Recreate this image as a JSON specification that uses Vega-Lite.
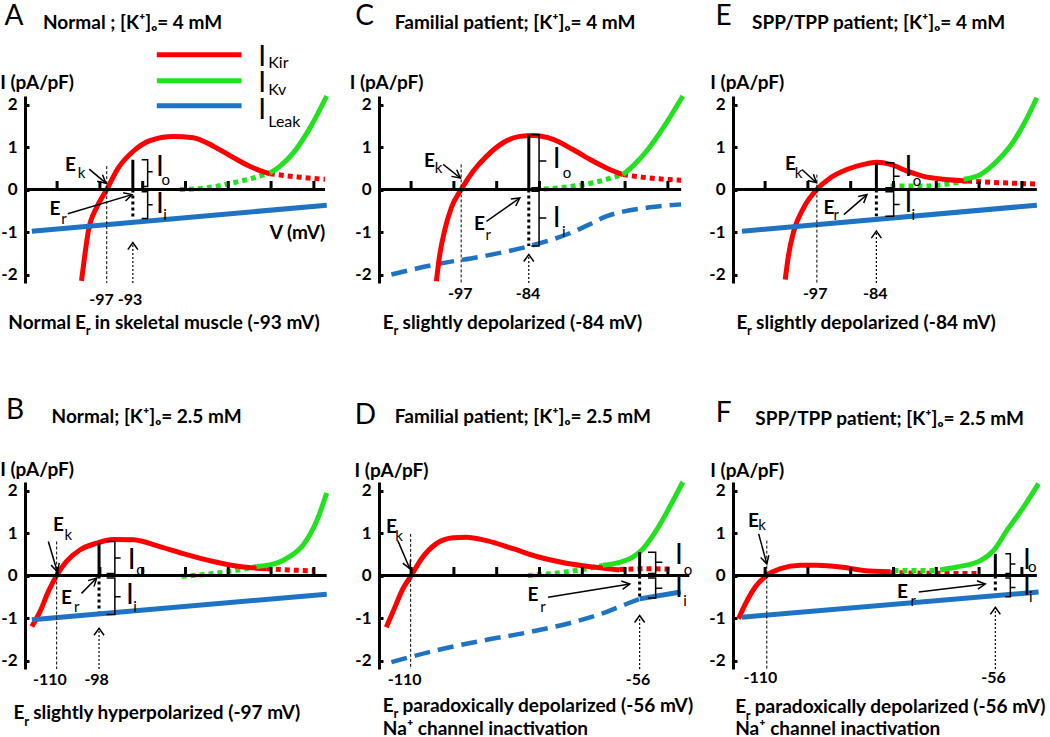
{
"$schema":"https://vega.github.io/schema/vega-lite/v6.json",
"autosize":{"type":"pad"},
"padding":{"left":0,"top":3,"right":0,"bottom":0},
"background":"white",
"data":{"values":[
{"p":"A","k":"sol","s":"kir","x":-104.3,"y":-2.15},{"p":"A","k":"sol","s":"kir","x":-103.5,"y":-1.53},{"p":"A","k":"sol","s":"kir","x":-102.7,"y":-0.98},{"p":"A","k":"sol","s":"kir","x":-100.8,"y":-0.43},{"p":"A","k":"sol","s":"kir","x":-98.4,"y":0},{"p":"A","k":"sol","s":"kir","x":-95.7,"y":0.51},{"p":"A","k":"sol","s":"kir","x":-92.2,"y":0.9},{"p":"A","k":"sol","s":"kir","x":-88.3,"y":1.15},{"p":"A","k":"sol","s":"kir","x":-82.9,"y":1.25},{"p":"A","k":"sol","s":"kir","x":-78.2,"y":1.22},{"p":"A","k":"sol","s":"kir","x":-73.5,"y":1.02},{"p":"A","k":"sol","s":"kir","x":-68.8,"y":0.75},{"p":"A","k":"sol","s":"kir","x":-64.2,"y":0.51},{"p":"A","k":"sol","s":"kir","x":-60.3,"y":0.37},
{"p":"A","k":"dot","s":"kir","x":-60.3,"y":0.37},{"p":"A","k":"dot","s":"kir","x":-53.3,"y":0.29},{"p":"A","k":"dot","s":"kir","x":-47.4,"y":0.24},
{"p":"A","k":"dot","s":"kv","x":-81.3,"y":0},{"p":"A","k":"dot","s":"kv","x":-75.1,"y":0.04},{"p":"A","k":"dot","s":"kv","x":-68.8,"y":0.16},{"p":"A","k":"dot","s":"kv","x":-64.2,"y":0.27},{"p":"A","k":"dot","s":"kv","x":-60.3,"y":0.39},
{"p":"A","k":"sol","s":"kv","x":-60.3,"y":0.39},{"p":"A","k":"sol","s":"kv","x":-57.9,"y":0.55},{"p":"A","k":"sol","s":"kv","x":-54.8,"y":0.86},{"p":"A","k":"sol","s":"kv","x":-50.9,"y":1.45},{"p":"A","k":"sol","s":"kv","x":-47.0,"y":2.2},
{"p":"A","k":"sol","s":"leak","x":-115.9,"y":-0.98},{"p":"A","k":"sol","s":"leak","x":-47.0,"y":-0.37},

{"p":"C","k":"sol","s":"kir","x":-104.1,"y":-2.16},{"p":"C","k":"sol","s":"kir","x":-103.3,"y":-1.53},{"p":"C","k":"sol","s":"kir","x":-102.2,"y":-0.98},{"p":"C","k":"sol","s":"kir","x":-100.6,"y":-0.43},{"p":"C","k":"sol","s":"kir","x":-98.3,"y":0},{"p":"C","k":"sol","s":"kir","x":-95.5,"y":0.43},{"p":"C","k":"sol","s":"kir","x":-92.4,"y":0.78},{"p":"C","k":"sol","s":"kir","x":-88.5,"y":1.1},{"p":"C","k":"sol","s":"kir","x":-84.6,"y":1.25},{"p":"C","k":"sol","s":"kir","x":-81.5,"y":1.27},{"p":"C","k":"sol","s":"kir","x":-76.8,"y":1.18},{"p":"C","k":"sol","s":"kir","x":-72.2,"y":0.94},{"p":"C","k":"sol","s":"kir","x":-67.5,"y":0.67},{"p":"C","k":"sol","s":"kir","x":-63.6,"y":0.47},{"p":"C","k":"sol","s":"kir","x":-60.5,"y":0.35},
{"p":"C","k":"dot","s":"kir","x":-60.5,"y":0.35},{"p":"C","k":"dot","s":"kir","x":-54.3,"y":0.27},{"p":"C","k":"dot","s":"kir","x":-46.9,"y":0.22},
{"p":"C","k":"dot","s":"kv","x":-81.1,"y":0},{"p":"C","k":"dot","s":"kv","x":-75.3,"y":0.04},{"p":"C","k":"dot","s":"kv","x":-67.5,"y":0.16},{"p":"C","k":"dot","s":"kv","x":-60.5,"y":0.35},
{"p":"C","k":"sol","s":"kv","x":-60.5,"y":0.35},{"p":"C","k":"sol","s":"kv","x":-58.2,"y":0.55},{"p":"C","k":"sol","s":"kv","x":-55.0,"y":0.9},{"p":"C","k":"sol","s":"kv","x":-51.1,"y":1.45},{"p":"C","k":"sol","s":"kv","x":-46.5,"y":2.2},
{"p":"C","k":"dash","s":"leak","x":-114.6,"y":-2.0},{"p":"C","k":"dash","s":"leak","x":-104.1,"y":-1.76},{"p":"C","k":"dash","s":"leak","x":-93.2,"y":-1.57},{"p":"C","k":"dash","s":"leak","x":-82.3,"y":-1.33},{"p":"C","k":"dash","s":"leak","x":-72.2,"y":-1.0},{"p":"C","k":"dash","s":"leak","x":-68.3,"y":-0.82},{"p":"C","k":"dash","s":"leak","x":-64.4,"y":-0.63},{"p":"C","k":"dash","s":"leak","x":-60.5,"y":-0.52},{"p":"C","k":"dash","s":"leak","x":-54.3,"y":-0.42},{"p":"C","k":"dash","s":"leak","x":-46.9,"y":-0.35},

{"p":"E","k":"sol","s":"kir","x":-105.3,"y":-2.12},{"p":"E","k":"sol","s":"kir","x":-104.5,"y":-1.53},{"p":"E","k":"sol","s":"kir","x":-103.3,"y":-0.98},{"p":"E","k":"sol","s":"kir","x":-101.0,"y":-0.43},{"p":"E","k":"sol","s":"kir","x":-97.9,"y":0},{"p":"E","k":"sol","s":"kir","x":-94.8,"y":0.27},{"p":"E","k":"sol","s":"kir","x":-90.9,"y":0.47},{"p":"E","k":"sol","s":"kir","x":-87.0,"y":0.59},{"p":"E","k":"sol","s":"kir","x":-83.9,"y":0.64},{"p":"E","k":"sol","s":"kir","x":-80.7,"y":0.59},{"p":"E","k":"sol","s":"kir","x":-76.8,"y":0.43},{"p":"E","k":"sol","s":"kir","x":-72.95,"y":0.31},{"p":"E","k":"sol","s":"kir","x":-68.3,"y":0.24},{"p":"E","k":"sol","s":"kir","x":-62.8,"y":0.2},
{"p":"E","k":"dot","s":"kir","x":-62.8,"y":0.2},{"p":"E","k":"dot","s":"kir","x":-55.0,"y":0.16},{"p":"E","k":"dot","s":"kir","x":-46.5,"y":0.13},
{"p":"E","k":"dot","s":"kv","x":-80.7,"y":0.08},{"p":"E","k":"dot","s":"kv","x":-72.95,"y":0.08},{"p":"E","k":"dot","s":"kv","x":-65.2,"y":0.16},{"p":"E","k":"dot","s":"kv","x":-62.8,"y":0.2},
{"p":"E","k":"sol","s":"kv","x":-63.6,"y":0.24},{"p":"E","k":"sol","s":"kv","x":-59.7,"y":0.35},{"p":"E","k":"sol","s":"kv","x":-55.8,"y":0.67},{"p":"E","k":"sol","s":"kv","x":-51.9,"y":1.14},{"p":"E","k":"sol","s":"kv","x":-49.6,"y":1.53},{"p":"E","k":"sol","s":"kv","x":-46.5,"y":2.16},
{"p":"E","k":"sol","s":"leak","x":-115.4,"y":-0.98},{"p":"E","k":"sol","s":"leak","x":-46.5,"y":-0.37},

{"p":"B","k":"sol","s":"kir","x":-115.9,"y":-1.2},{"p":"B","k":"sol","s":"kir","x":-114.0,"y":-0.85},{"p":"B","k":"sol","s":"kir","x":-112.05,"y":-0.38},{"p":"B","k":"sol","s":"kir","x":-110.1,"y":0},{"p":"B","k":"sol","s":"kir","x":-107.8,"y":0.33},{"p":"B","k":"sol","s":"kir","x":-104.7,"y":0.6},{"p":"B","k":"sol","s":"kir","x":-100.8,"y":0.76},{"p":"B","k":"sol","s":"kir","x":-96.9,"y":0.85},{"p":"B","k":"sol","s":"kir","x":-92.2,"y":0.84},{"p":"B","k":"sol","s":"kir","x":-86.0,"y":0.68},{"p":"B","k":"sol","s":"kir","x":-79.7,"y":0.49},{"p":"B","k":"sol","s":"kir","x":-73.5,"y":0.33},{"p":"B","k":"sol","s":"kir","x":-67.3,"y":0.21},{"p":"B","k":"sol","s":"kir","x":-61.0,"y":0.16},
{"p":"B","k":"dot","s":"kir","x":-61.0,"y":0.16},{"p":"B","k":"dot","s":"kir","x":-55.6,"y":0.13},{"p":"B","k":"dot","s":"kir","x":-50.1,"y":0.11},
{"p":"B","k":"dot","s":"kv","x":-80.9,"y":-0.02},{"p":"B","k":"dot","s":"kv","x":-75.1,"y":0.03},{"p":"B","k":"dot","s":"kv","x":-68.8,"y":0.11},{"p":"B","k":"dot","s":"kv","x":-63.4,"y":0.21},
{"p":"B","k":"sol","s":"kv","x":-63.4,"y":0.21},{"p":"B","k":"sol","s":"kv","x":-58.7,"y":0.29},{"p":"B","k":"sol","s":"kv","x":-55.6,"y":0.45},{"p":"B","k":"sol","s":"kv","x":-52.5,"y":0.72},{"p":"B","k":"sol","s":"kv","x":-49.4,"y":1.27},{"p":"B","k":"sol","s":"kv","x":-47.0,"y":1.94},
{"p":"B","k":"sol","s":"leak","x":-115.9,"y":-1.04},{"p":"B","k":"sol","s":"leak","x":-47.0,"y":-0.44},

{"p":"D","k":"sol","s":"kir","x":-115.8,"y":-1.22},{"p":"D","k":"sol","s":"kir","x":-113.8,"y":-0.75},{"p":"D","k":"sol","s":"kir","x":-111.9,"y":-0.31},{"p":"D","k":"sol","s":"kir","x":-109.95,"y":0},{"p":"D","k":"sol","s":"kir","x":-107.6,"y":0.39},{"p":"D","k":"sol","s":"kir","x":-104.1,"y":0.75},{"p":"D","k":"sol","s":"kir","x":-100.2,"y":0.89},{"p":"D","k":"sol","s":"kir","x":-97.1,"y":0.9},{"p":"D","k":"sol","s":"kir","x":-92.4,"y":0.82},{"p":"D","k":"sol","s":"kir","x":-86.2,"y":0.63},{"p":"D","k":"sol","s":"kir","x":-80.0,"y":0.43},{"p":"D","k":"sol","s":"kir","x":-73.7,"y":0.29},{"p":"D","k":"sol","s":"kir","x":-67.5,"y":0.2},{"p":"D","k":"sol","s":"kir","x":-61.3,"y":0.13},
{"p":"D","k":"dot","s":"kir","x":-61.3,"y":0.14},{"p":"D","k":"dot","s":"kir","x":-55.0,"y":0.16},{"p":"D","k":"dot","s":"kir","x":-49.6,"y":0.15},
{"p":"D","k":"dot","s":"kv","x":-82.7,"y":0},{"p":"D","k":"dot","s":"kv","x":-76.8,"y":0.05},{"p":"D","k":"dot","s":"kv","x":-70.6,"y":0.13},{"p":"D","k":"dot","s":"kv","x":-65.2,"y":0.24},
{"p":"D","k":"sol","s":"kv","x":-65.2,"y":0.24},{"p":"D","k":"sol","s":"kv","x":-61.3,"y":0.31},{"p":"D","k":"sol","s":"kv","x":-58.2,"y":0.43},{"p":"D","k":"sol","s":"kv","x":-55.8,"y":0.63},{"p":"D","k":"sol","s":"kv","x":-52.7,"y":1.06},{"p":"D","k":"sol","s":"kv","x":-49.6,"y":1.61},{"p":"D","k":"sol","s":"kv","x":-46.5,"y":2.2},
{"p":"D","k":"dash","s":"leak","x":-114.6,"y":-2.04},{"p":"D","k":"dash","s":"leak","x":-104.1,"y":-1.76},{"p":"D","k":"dash","s":"leak","x":-93.2,"y":-1.53},{"p":"D","k":"dash","s":"leak","x":-82.3,"y":-1.33},{"p":"D","k":"dash","s":"leak","x":-72.2,"y":-1.1},{"p":"D","k":"dash","s":"leak","x":-64.4,"y":-0.86},{"p":"D","k":"dash","s":"leak","x":-59.7,"y":-0.67},{"p":"D","k":"dash","s":"leak","x":-56.6,"y":-0.55},
{"p":"D","k":"sol","s":"leak","x":-56.6,"y":-0.55},{"p":"D","k":"sol","s":"leak","x":-47.0,"y":-0.39},

{"p":"F","k":"sol","s":"kir","x":-116.2,"y":-1.02},{"p":"F","k":"sol","s":"kir","x":-114.6,"y":-0.67},{"p":"F","k":"sol","s":"kir","x":-112.3,"y":-0.27},{"p":"F","k":"sol","s":"kir","x":-109.6,"y":0},{"p":"F","k":"sol","s":"kir","x":-106.4,"y":0.16},{"p":"F","k":"sol","s":"kir","x":-101.8,"y":0.24},{"p":"F","k":"sol","s":"kir","x":-97.9,"y":0.24},{"p":"F","k":"sol","s":"kir","x":-92.4,"y":0.2},{"p":"F","k":"sol","s":"kir","x":-87.0,"y":0.12},{"p":"F","k":"sol","s":"kir","x":-80.7,"y":0.09},
{"p":"F","k":"dot","s":"kir","x":-80.7,"y":0.07},{"p":"F","k":"dot","s":"kir","x":-68.3,"y":0.05},{"p":"F","k":"dot","s":"kir","x":-59.7,"y":0.05},
{"p":"F","k":"dot","s":"kv","x":-80.0,"y":0.12},{"p":"F","k":"dot","s":"kv","x":-69.8,"y":0.12},
{"p":"F","k":"sol","s":"kv","x":-69.1,"y":0.13},{"p":"F","k":"sol","s":"kv","x":-65.2,"y":0.2},{"p":"F","k":"sol","s":"kv","x":-59.7,"y":0.35},{"p":"F","k":"sol","s":"kv","x":-56.6,"y":0.59},{"p":"F","k":"sol","s":"kv","x":-53.5,"y":1.06},{"p":"F","k":"sol","s":"kv","x":-49.6,"y":1.61},{"p":"F","k":"sol","s":"kv","x":-46.1,"y":2.16},
{"p":"F","k":"sol","s":"leak","x":-115.4,"y":-0.98},{"p":"F","k":"sol","s":"leak","x":-46.1,"y":-0.39},

{"p":"A","k":"leg","s":"kir","x":-86.7,"x2":-66.9,"y":3.17},{"p":"A","k":"leg","s":"kv","x":-86.7,"x2":-66.9,"y":2.56},{"p":"A","k":"leg","s":"leak","x":-86.7,"x2":-66.9,"y":1.97},
{"p":"A","k":"I","t":"I","x":-62.1,"y":3.09},{"p":"A","k":"I","t":"I","x":-62.1,"y":2.48},{"p":"A","k":"I","t":"I","x":-62.1,"y":1.84},
{"p":"A","k":"lsub","t":"Kir","x":-60.66,"y":2.97},{"p":"A","k":"lsub","t":"Kv","x":-60.66,"y":2.33},{"p":"A","k":"lsub","t":"Leak","x":-60.66,"y":1.6},

{"p":"A","k":"ax","x":-117.5,"x2":-47.4,"y":0},{"p":"C","k":"ax","x":-117.5,"x2":-46.9,"y":0},{"p":"E","k":"ax","x":-117.5,"x2":-46.5,"y":0},{"p":"B","k":"ax","x":-117.5,"x2":-47.0,"y":0},{"p":"D","k":"ax","x":-117.5,"x2":-45.0,"y":0},{"p":"F","k":"ax","x":-117.5,"x2":-46.5,"y":0},

{"p":"A","k":"tk","x":-110,"y":0,"y2":0.2},{"p":"A","k":"tk","x":-100,"y":0,"y2":0.2},{"p":"A","k":"tk","x":-90,"y":0,"y2":0.2},{"p":"A","k":"tk","x":-80,"y":0,"y2":0.2},{"p":"A","k":"tk","x":-70,"y":0,"y2":0.2},{"p":"A","k":"tk","x":-60,"y":0,"y2":0.2},{"p":"A","k":"tk","x":-50,"y":0,"y2":0.2},
{"p":"C","k":"tk","x":-110,"y":0,"y2":0.2},{"p":"C","k":"tk","x":-100,"y":0,"y2":0.2},{"p":"C","k":"tk","x":-90,"y":0,"y2":0.2},{"p":"C","k":"tk","x":-80,"y":0,"y2":0.2},{"p":"C","k":"tk","x":-70,"y":0,"y2":0.2},{"p":"C","k":"tk","x":-60,"y":0,"y2":0.2},{"p":"C","k":"tk","x":-50,"y":0,"y2":0.2},
{"p":"E","k":"tk","x":-110,"y":0,"y2":0.2},{"p":"E","k":"tk","x":-100,"y":0,"y2":0.2},{"p":"E","k":"tk","x":-90,"y":0,"y2":0.2},{"p":"E","k":"tk","x":-80,"y":0,"y2":0.2},{"p":"E","k":"tk","x":-70,"y":0,"y2":0.2},{"p":"E","k":"tk","x":-60,"y":0,"y2":0.2},{"p":"E","k":"tk","x":-50,"y":0,"y2":0.2},
{"p":"B","k":"tk","x":-110,"y":0,"y2":0.2},{"p":"B","k":"tk","x":-100,"y":0,"y2":0.2},{"p":"B","k":"tk","x":-90,"y":0,"y2":0.2},{"p":"B","k":"tk","x":-80,"y":0,"y2":0.2},{"p":"B","k":"tk","x":-70,"y":0,"y2":0.2},{"p":"B","k":"tk","x":-60,"y":0,"y2":0.2},{"p":"B","k":"tk","x":-50,"y":0,"y2":0.2},
{"p":"D","k":"tk","x":-110,"y":0,"y2":0.2},{"p":"D","k":"tk","x":-100,"y":0,"y2":0.2},{"p":"D","k":"tk","x":-90,"y":0,"y2":0.2},{"p":"D","k":"tk","x":-80,"y":0,"y2":0.2},{"p":"D","k":"tk","x":-70,"y":0,"y2":0.2},{"p":"D","k":"tk","x":-60,"y":0,"y2":0.2},{"p":"D","k":"tk","x":-50,"y":0,"y2":0.2},
{"p":"F","k":"tk","x":-110,"y":0,"y2":0.2},{"p":"F","k":"tk","x":-100,"y":0,"y2":0.2},{"p":"F","k":"tk","x":-90,"y":0,"y2":0.2},{"p":"F","k":"tk","x":-80,"y":0,"y2":0.2},{"p":"F","k":"tk","x":-70,"y":0,"y2":0.2},{"p":"F","k":"tk","x":-60,"y":0,"y2":0.2},{"p":"F","k":"tk","x":-50,"y":0,"y2":0.2},

{"p":"A","k":"ek","x":-98.4,"y":0.55,"y2":-2.2},{"p":"C","k":"ek","x":-98.3,"y":0.59,"y2":-2.2},{"p":"E","k":"ek","x":-97.9,"y":0.35,"y2":-2.2},{"p":"B","k":"ek","x":-110.1,"y":0.8,"y2":-2.2},{"p":"D","k":"ek","x":-110.1,"y":0.98,"y2":-2.2},{"p":"F","k":"ek","x":-109.6,"y":0.82,"y2":-2.2},

{"p":"A","k":"bar","x":-92.3,"y":0,"y2":0.7},{"p":"C","k":"bar","x":-82.5,"y":0,"y2":1.29},{"p":"E","k":"bar","x":-84.0,"y":0,"y2":0.63},{"p":"B","k":"bar","x":-100.2,"y":0,"y2":0.76},{"p":"D","k":"bar","x":-56.6,"y":0,"y2":0.55},{"p":"F","k":"bar","x":-56.2,"y":0,"y2":0.51},
{"p":"A","k":"bard","x":-92.3,"y":0,"y2":-0.68},{"p":"C","k":"bard","x":-82.5,"y":0,"y2":-1.33},{"p":"E","k":"bard","x":-84.0,"y":0,"y2":-0.63},{"p":"B","k":"bard","x":-100.2,"y":0,"y2":-0.85},{"p":"D","k":"bard","x":-56.6,"y":0,"y2":-0.55},{"p":"F","k":"bard","x":-56.2,"y":0,"y2":-0.35},

{"p":"A","k":"darr","x":-92.3,"y":-2.2,"y2":-1.25},{"p":"C","k":"darr","x":-82.5,"y":-2.2,"y2":-1.53},{"p":"E","k":"darr","x":-84.0,"y":-2.2,"y2":-0.98},{"p":"B","k":"darr","x":-100.2,"y":-2.2,"y2":-1.24},{"p":"D","k":"darr","x":-56.6,"y":-2.2,"y2":-0.94},{"p":"F","k":"darr","x":-56.2,"y":-2.2,"y2":-0.75},

{"p":"A","k":"arr","x":-102.5,"y":0.48,"x2":-98.6,"y2":0.15},{"p":"A","k":"arr","x":-107.5,"y":-0.57,"x2":-92.5,"y2":-0.12},
{"p":"C","k":"arr","x":-102.5,"y":0.59,"x2":-98.5,"y2":0.27},{"p":"C","k":"arr","x":-92.4,"y":-0.75,"x2":-84.6,"y2":-0.2},
{"p":"E","k":"arr","x":-101.4,"y":0.47,"x2":-98.0,"y2":0.16},{"p":"E","k":"arr","x":-91.6,"y":-0.59,"x2":-86.2,"y2":-0.12},
{"p":"B","k":"arr","x":-112.05,"y":0.8,"x2":-109.95,"y2":0.09},{"p":"B","k":"arr","x":-104.3,"y":-0.42,"x2":-100.76,"y2":-0.06},
{"p":"D","k":"arr","x":-113.1,"y":0.82,"x2":-110.3,"y2":0.16},{"p":"D","k":"arr","x":-78.0,"y":-0.51,"x2":-58.9,"y2":-0.2},
{"p":"F","k":"arr","x":-111.5,"y":0.98,"x2":-109.6,"y2":0.27},{"p":"F","k":"arr","x":-74.1,"y":-0.39,"x2":-58.55,"y2":-0.2},

{"p":"A","k":"hd","id":"A1","o":0,"x":-99.39,"y":0.346},{"p":"A","k":"hd","id":"A1","o":1,"x":-98.6,"y":0.15},{"p":"A","k":"hd","id":"A1","o":2,"x":-100.65,"y":0.194},
{"p":"A","k":"hd","id":"A2","o":0,"x":-94.56,"y":-0.078},{"p":"A","k":"hd","id":"A2","o":1,"x":-92.5,"y":-0.12},{"p":"A","k":"hd","id":"A2","o":2,"x":-94.0,"y":-0.269},
{"p":"A","k":"hd","id":"A3","o":0,"x":-93.47,"y":-1.415},{"p":"A","k":"hd","id":"A3","o":1,"x":-92.3,"y":-1.25},{"p":"A","k":"hd","id":"A3","o":2,"x":-91.13,"y":-1.415},
{"p":"C","k":"hd","id":"C1","o":0,"x":-99.34,"y":0.464},{"p":"C","k":"hd","id":"C1","o":1,"x":-98.5,"y":0.27},{"p":"C","k":"hd","id":"C1","o":2,"x":-100.57,"y":0.309},
{"p":"C","k":"hd","id":"C2","o":0,"x":-86.69,"y":-0.226},{"p":"C","k":"hd","id":"C2","o":1,"x":-84.6,"y":-0.2},{"p":"C","k":"hd","id":"C2","o":2,"x":-85.56,"y":-0.389},
{"p":"C","k":"hd","id":"C3","o":0,"x":-83.67,"y":-1.695},{"p":"C","k":"hd","id":"C3","o":1,"x":-82.5,"y":-1.53},{"p":"C","k":"hd","id":"C3","o":2,"x":-81.33,"y":-1.695},
{"p":"E","k":"hd","id":"E1","o":0,"x":-98.71,"y":0.36},{"p":"E","k":"hd","id":"E1","o":1,"x":-98.0,"y":0.16},{"p":"E","k":"hd","id":"E1","o":2,"x":-100.04,"y":0.212},
{"p":"E","k":"hd","id":"E2","o":0,"x":-88.25,"y":-0.167},{"p":"E","k":"hd","id":"E2","o":1,"x":-86.2,"y":-0.12},{"p":"E","k":"hd","id":"E2","o":2,"x":-86.96,"y":-0.317},
{"p":"E","k":"hd","id":"E3","o":0,"x":-85.17,"y":-1.145},{"p":"E","k":"hd","id":"E3","o":1,"x":-84.0,"y":-0.98},{"p":"E","k":"hd","id":"E3","o":2,"x":-82.83,"y":-1.145},
{"p":"B","k":"hd","id":"B1","o":0,"x":-109.49,"y":0.297},{"p":"B","k":"hd","id":"B1","o":1,"x":-109.95,"y":0.09},{"p":"B","k":"hd","id":"B1","o":2,"x":-111.4,"y":0.244},
{"p":"B","k":"hd","id":"B2","o":0,"x":-102.77,"y":-0.121},{"p":"B","k":"hd","id":"B2","o":1,"x":-100.76,"y":-0.06},{"p":"B","k":"hd","id":"B2","o":2,"x":-101.38,"y":-0.262},
{"p":"B","k":"hd","id":"B3","o":0,"x":-101.37,"y":-1.405},{"p":"B","k":"hd","id":"B3","o":1,"x":-100.2,"y":-1.24},{"p":"B","k":"hd","id":"B3","o":2,"x":-99.03,"y":-1.405},
{"p":"D","k":"hd","id":"D1","o":0,"x":-110.12,"y":0.371},{"p":"D","k":"hd","id":"D1","o":1,"x":-110.3,"y":0.16},{"p":"D","k":"hd","id":"D1","o":2,"x":-111.94,"y":0.293},
{"p":"D","k":"hd","id":"D2","o":0,"x":-60.89,"y":-0.131},{"p":"D","k":"hd","id":"D2","o":1,"x":-58.9,"y":-0.2},{"p":"D","k":"hd","id":"D2","o":2,"x":-60.58,"y":-0.327},
{"p":"D","k":"hd","id":"D3","o":0,"x":-57.77,"y":-1.105},{"p":"D","k":"hd","id":"D3","o":1,"x":-56.6,"y":-0.94},{"p":"D","k":"hd","id":"D3","o":2,"x":-55.43,"y":-1.105},
{"p":"F","k":"hd","id":"F1","o":0,"x":-109.13,"y":0.476},{"p":"F","k":"hd","id":"F1","o":1,"x":-109.6,"y":0.27},{"p":"F","k":"hd","id":"F1","o":2,"x":-111.04,"y":0.425},
{"p":"F","k":"hd","id":"F2","o":0,"x":-60.51,"y":-0.123},{"p":"F","k":"hd","id":"F2","o":1,"x":-58.55,"y":-0.2},{"p":"F","k":"hd","id":"F2","o":2,"x":-60.28,"y":-0.321},
{"p":"F","k":"hd","id":"F3","o":0,"x":-57.37,"y":-0.915},{"p":"F","k":"hd","id":"F3","o":1,"x":-56.2,"y":-0.75},{"p":"F","k":"hd","id":"F3","o":2,"x":-55.03,"y":-0.915},

{"p":"A","k":"br","id":"Ao","o":0,"x":-90.24,"y":0.7},{"p":"A","k":"br","id":"Ao","o":1,"x":-88.84,"y":0.7},{"p":"A","k":"br","id":"Ao","o":2,"x":-88.84,"y":0.42},{"p":"A","k":"br","id":"Ao","o":3,"x":-87.67,"y":0.42},{"p":"A","k":"br","id":"Ao","o":4,"x":-88.84,"y":0.42},{"p":"A","k":"br","id":"Ao","o":5,"x":-88.84,"y":0.07},{"p":"A","k":"br","id":"Ao","o":6,"x":-90.24,"y":0.07},
{"p":"A","k":"br","id":"Ai","o":0,"x":-90.24,"y":-0.05},{"p":"A","k":"br","id":"Ai","o":1,"x":-88.84,"y":-0.05},{"p":"A","k":"br","id":"Ai","o":2,"x":-88.84,"y":-0.36},{"p":"A","k":"br","id":"Ai","o":3,"x":-87.67,"y":-0.36},{"p":"A","k":"br","id":"Ai","o":4,"x":-88.84,"y":-0.36},{"p":"A","k":"br","id":"Ai","o":5,"x":-88.84,"y":-0.68},{"p":"A","k":"br","id":"Ai","o":6,"x":-90.24,"y":-0.68},
{"p":"C","k":"br","id":"Co","o":0,"x":-81.9,"y":1.29},{"p":"C","k":"br","id":"Co","o":1,"x":-80.1,"y":1.29},{"p":"C","k":"br","id":"Co","o":2,"x":-80.1,"y":0.67},{"p":"C","k":"br","id":"Co","o":3,"x":-78.4,"y":0.67},{"p":"C","k":"br","id":"Co","o":4,"x":-80.1,"y":0.67},{"p":"C","k":"br","id":"Co","o":5,"x":-80.1,"y":0.04},{"p":"C","k":"br","id":"Co","o":6,"x":-81.9,"y":0.04},
{"p":"C","k":"br","id":"Ci","o":0,"x":-81.9,"y":-0.04},{"p":"C","k":"br","id":"Ci","o":1,"x":-80.1,"y":-0.04},{"p":"C","k":"br","id":"Ci","o":2,"x":-80.1,"y":-0.67},{"p":"C","k":"br","id":"Ci","o":3,"x":-78.4,"y":-0.67},{"p":"C","k":"br","id":"Ci","o":4,"x":-80.1,"y":-0.67},{"p":"C","k":"br","id":"Ci","o":5,"x":-80.1,"y":-1.33},{"p":"C","k":"br","id":"Ci","o":6,"x":-81.9,"y":-1.33},
{"p":"E","k":"br","id":"Eo","o":0,"x":-81.9,"y":0.63},{"p":"E","k":"br","id":"Eo","o":1,"x":-79.96,"y":0.63},{"p":"E","k":"br","id":"Eo","o":2,"x":-79.96,"y":0.31},{"p":"E","k":"br","id":"Eo","o":3,"x":-78.56,"y":0.31},{"p":"E","k":"br","id":"Eo","o":4,"x":-79.96,"y":0.31},{"p":"E","k":"br","id":"Eo","o":5,"x":-79.96,"y":0.04},{"p":"E","k":"br","id":"Eo","o":6,"x":-81.9,"y":0.04},
{"p":"E","k":"br","id":"Ei","o":0,"x":-81.9,"y":-0.05},{"p":"E","k":"br","id":"Ei","o":1,"x":-79.96,"y":-0.05},{"p":"E","k":"br","id":"Ei","o":2,"x":-79.96,"y":-0.35},{"p":"E","k":"br","id":"Ei","o":3,"x":-78.56,"y":-0.35},{"p":"E","k":"br","id":"Ei","o":4,"x":-79.96,"y":-0.35},{"p":"E","k":"br","id":"Ei","o":5,"x":-79.96,"y":-0.63},{"p":"E","k":"br","id":"Ei","o":6,"x":-81.9,"y":-0.63},
{"p":"B","k":"br","id":"Bo","o":0,"x":-98.42,"y":0.8},{"p":"B","k":"br","id":"Bo","o":1,"x":-96.5,"y":0.8},{"p":"B","k":"br","id":"Bo","o":2,"x":-96.5,"y":0.41},{"p":"B","k":"br","id":"Bo","o":3,"x":-95.15,"y":0.41},{"p":"B","k":"br","id":"Bo","o":4,"x":-96.5,"y":0.41},{"p":"B","k":"br","id":"Bo","o":5,"x":-96.5,"y":0.05},{"p":"B","k":"br","id":"Bo","o":6,"x":-98.42,"y":0.05},
{"p":"B","k":"br","id":"Bi","o":0,"x":-98.42,"y":-0.06},{"p":"B","k":"br","id":"Bi","o":1,"x":-96.5,"y":-0.06},{"p":"B","k":"br","id":"Bi","o":2,"x":-96.5,"y":-0.5},{"p":"B","k":"br","id":"Bi","o":3,"x":-95.15,"y":-0.5},{"p":"B","k":"br","id":"Bi","o":4,"x":-96.5,"y":-0.5},{"p":"B","k":"br","id":"Bi","o":5,"x":-96.5,"y":-0.92},{"p":"B","k":"br","id":"Bi","o":6,"x":-98.42,"y":-0.92},
{"p":"D","k":"br","id":"Do","o":0,"x":-54.65,"y":0.55},{"p":"D","k":"br","id":"Do","o":1,"x":-52.86,"y":0.55},{"p":"D","k":"br","id":"Do","o":2,"x":-52.86,"y":0.31},{"p":"D","k":"br","id":"Do","o":3,"x":-51.3,"y":0.31},{"p":"D","k":"br","id":"Do","o":4,"x":-52.86,"y":0.31},{"p":"D","k":"br","id":"Do","o":5,"x":-52.86,"y":0.05},{"p":"D","k":"br","id":"Do","o":6,"x":-54.65,"y":0.05},
{"p":"D","k":"br","id":"Di","o":0,"x":-54.65,"y":-0.06},{"p":"D","k":"br","id":"Di","o":1,"x":-52.86,"y":-0.06},{"p":"D","k":"br","id":"Di","o":2,"x":-52.86,"y":-0.3},{"p":"D","k":"br","id":"Di","o":3,"x":-51.3,"y":-0.3},{"p":"D","k":"br","id":"Di","o":4,"x":-52.86,"y":-0.3},{"p":"D","k":"br","id":"Di","o":5,"x":-52.86,"y":-0.53},{"p":"D","k":"br","id":"Di","o":6,"x":-54.65,"y":-0.53},
{"p":"F","k":"br","id":"Fo","o":0,"x":-53.87,"y":0.51},{"p":"F","k":"br","id":"Fo","o":1,"x":-52.7,"y":0.51},{"p":"F","k":"br","id":"Fo","o":2,"x":-52.7,"y":0.27},{"p":"F","k":"br","id":"Fo","o":3,"x":-51.5,"y":0.27},{"p":"F","k":"br","id":"Fo","o":4,"x":-52.7,"y":0.27},{"p":"F","k":"br","id":"Fo","o":5,"x":-52.7,"y":0.05},{"p":"F","k":"br","id":"Fo","o":6,"x":-53.87,"y":0.05},
{"p":"F","k":"br","id":"Fi","o":0,"x":-53.87,"y":-0.06},{"p":"F","k":"br","id":"Fi","o":1,"x":-52.7,"y":-0.06},{"p":"F","k":"br","id":"Fi","o":2,"x":-52.7,"y":-0.28},{"p":"F","k":"br","id":"Fi","o":3,"x":-51.5,"y":-0.28},{"p":"F","k":"br","id":"Fi","o":4,"x":-52.7,"y":-0.28},{"p":"F","k":"br","id":"Fi","o":5,"x":-52.7,"y":-0.5},{"p":"F","k":"br","id":"Fi","o":6,"x":-53.87,"y":-0.5},

{"p":"A","k":"E","t":"E","x":-106.9,"y":0.58},{"p":"A","k":"sub","t":"k","x":-104.3,"y":0.4},{"p":"A","k":"E","t":"E","x":-110.5,"y":-0.46},{"p":"A","k":"sub","t":"r","x":-108.4,"y":-0.69},
{"p":"C","k":"E","t":"E","x":-105.7,"y":0.67},{"p":"C","k":"sub","t":"k","x":-103.6,"y":0.51},{"p":"C","k":"E","t":"E","x":-94.0,"y":-0.82},{"p":"C","k":"sub","t":"r","x":-92.0,"y":-1.06},
{"p":"E","k":"E","t":"E","x":-104.1,"y":0.59},{"p":"E","k":"sub","t":"k","x":-102.2,"y":0.39},{"p":"E","k":"E","t":"E","x":-95.1,"y":-0.43},{"p":"E","k":"sub","t":"r","x":-93.4,"y":-0.59},
{"p":"B","k":"E","t":"E","x":-109.7,"y":1.19},{"p":"B","k":"sub","t":"k","x":-107.4,"y":0.96},{"p":"B","k":"E","t":"E","x":-107.8,"y":-0.53},{"p":"B","k":"sub","t":"r","x":-105.4,"y":-0.73},
{"p":"D","k":"E","t":"E","x":-114.6,"y":1.14},{"p":"D","k":"sub","t":"k","x":-112.8,"y":0.94},{"p":"D","k":"E","t":"E","x":-81.5,"y":-0.47},{"p":"D","k":"sub","t":"r","x":-79.2,"y":-0.75},
{"p":"F","k":"E","t":"E","x":-112.7,"y":1.29},{"p":"F","k":"sub","t":"k","x":-110.7,"y":1.18},{"p":"F","k":"E","t":"E","x":-77.9,"y":-0.39},{"p":"F","k":"sub","t":"r","x":-75.4,"y":-0.6},

{"p":"A","k":"I","t":"I","x":-85.96,"y":0.5},{"p":"A","k":"sub","t":"o","x":-84.6,"y":0.23},{"p":"A","k":"I","t":"I","x":-85.96,"y":-0.36},{"p":"A","k":"sub","t":"i","x":-84.8,"y":-0.61},
{"p":"C","k":"I","t":"I","x":-76.0,"y":0.69},{"p":"C","k":"sub","t":"o","x":-73.6,"y":0.38},{"p":"C","k":"I","t":"I","x":-76.0,"y":-0.69},{"p":"C","k":"sub","t":"i","x":-74.3,"y":-1.01},
{"p":"E","k":"I","t":"I","x":-76.5,"y":0.51},{"p":"E","k":"sub","t":"o","x":-74.5,"y":0.2},{"p":"E","k":"I","t":"I","x":-76.5,"y":-0.35},{"p":"E","k":"sub","t":"i","x":-75.4,"y":-0.59},
{"p":"B","k":"I","t":"I","x":-92.6,"y":0.33},{"p":"B","k":"sub","t":"o","x":-90.5,"y":0.13},{"p":"B","k":"I","t":"I","x":-93.0,"y":-0.49},{"p":"B","k":"sub","t":"i","x":-91.8,"y":-0.73},
{"p":"D","k":"I","t":"I","x":-47.4,"y":0.45},{"p":"D","k":"sub","t":"o","x":-45.3,"y":0.12},{"p":"D","k":"I","t":"I","x":-47.4,"y":-0.31},{"p":"D","k":"sub","t":"i","x":-46.0,"y":-0.59},
{"p":"F","k":"I","t":"I","x":-48.8,"y":0.35},{"p":"F","k":"sub","t":"o","x":-47.6,"y":0.2},{"p":"F","k":"I","t":"I","x":-48.8,"y":-0.27},{"p":"F","k":"sub","t":"i","x":-47.9,"y":-0.51},

{"p":"A","k":"tl","t":"-97","x":-99.6,"y":-2.59},{"p":"A","k":"tl","t":"-93","x":-92.97,"y":-2.59},
{"p":"C","k":"tl","t":"-97","x":-98.5,"y":-2.47},{"p":"C","k":"tl","t":"-84","x":-82.7,"y":-2.47},
{"p":"E","k":"tl","t":"-97","x":-98.3,"y":-2.47},{"p":"E","k":"tl","t":"-84","x":-84.25,"y":-2.47},
{"p":"B","k":"tl","t":"-110","x":-111.66,"y":-2.45},{"p":"B","k":"tl","t":"-98","x":-100.76,"y":-2.45},
{"p":"D","k":"tl","t":"-110","x":-111.5,"y":-2.45},{"p":"D","k":"tl","t":"-56","x":-57.0,"y":-2.45},
{"p":"F","k":"tl","t":"-110","x":-111.1,"y":-2.41},{"p":"F","k":"tl","t":"-56","x":-56.6,"y":-2.41},

{"p":"A","k":"cap","t":"Normal","x":-121.4,"y":-3.14},{"p":"A","k":"cap","t":"E","x":-105.8,"y":-3.14},{"p":"A","k":"csub","t":"r","x":-103.3,"y":-3.34},{"p":"A","k":"cap","t":"in skeletal muscle (-93 mV)","x":-101.2,"y":-3.14},
{"p":"C","k":"cap","t":"E","x":-116.6,"y":-3.14},{"p":"C","k":"csub","t":"r","x":-114.1,"y":-3.34},{"p":"C","k":"cap","t":"slightly depolarized (-84 mV)","x":-112.0,"y":-3.14},
{"p":"E","k":"cap","t":"E","x":-116.7,"y":-3.14},{"p":"E","k":"csub","t":"r","x":-114.2,"y":-3.34},{"p":"E","k":"cap","t":"slightly depolarized (-84 mV)","x":-112.1,"y":-3.14},
{"p":"B","k":"cap","t":"E","x":-120.2,"y":-3.24},{"p":"B","k":"csub","t":"r","x":-117.7,"y":-3.44},{"p":"B","k":"cap","t":"slightly hyperpolarized (-97 mV)","x":-115.6,"y":-3.24},
{"p":"D","k":"cap","t":"E","x":-116.6,"y":-3.06},{"p":"D","k":"csub","t":"r","x":-114.1,"y":-3.26},{"p":"D","k":"cap","t":"paradoxically depolarized (-56 mV)","x":-112.0,"y":-3.06},
{"p":"D","k":"cap","t":"Na⁺ channel inactivation","x":-116.6,"y":-3.6},
{"p":"F","k":"cap","t":"E","x":-117.0,"y":-3.1},{"p":"F","k":"csub","t":"r","x":-114.5,"y":-3.3},{"p":"F","k":"cap","t":"paradoxically depolarized (-56 mV)","x":-112.4,"y":-3.1},
{"p":"F","k":"cap","t":"Na⁺ channel inactivation","x":-117.0,"y":-3.6},

{"p":"A","k":"let","t":"A","x":-120.1,"y":4.05},{"p":"C","k":"let","t":"C","x":-120.85,"y":4.05},{"p":"E","k":"let","t":"E","x":-119.7,"y":4.05},{"p":"B","k":"let","t":"B","x":-119.8,"y":3.88},{"p":"D","k":"let","t":"D","x":-120.7,"y":3.76},{"p":"F","k":"let","t":"F","x":-119.7,"y":3.79},
{"p":"A","k":"ttl","t":"Normal ; [K⁺]ₒ= 4 mM","x":-113.3,"y":3.92},
{"p":"C","k":"ttl","t":"Familial patient; [K⁺]ₒ= 4 mM","x":-113.8,"y":3.92},
{"p":"E","k":"ttl","t":"SPP/TPP patient; [K⁺]ₒ= 4 mM","x":-113.06,"y":3.92},
{"p":"B","k":"ttl","t":"Normal; [K⁺]ₒ= 2.5 mM","x":-111.3,"y":3.73},
{"p":"D","k":"ttl","t":"Familial patient; [K⁺]ₒ= 2.5 mM","x":-113.8,"y":3.73},
{"p":"F","k":"ttl","t":"SPP/TPP patient; [K⁺]ₒ= 2.5 mM","x":-112.3,"y":3.69},

{"p":"A","k":"axl","t":"I (pA/pF)","x":-123.3,"y":2.51},{"p":"C","k":"axl","t":"I (pA/pF)","x":-124.35,"y":2.51},{"p":"E","k":"axl","t":"I (pA/pF)","x":-122.8,"y":2.51},{"p":"B","k":"axl","t":"I (pA/pF)","x":-123.3,"y":2.49},{"p":"D","k":"axl","t":"I (pA/pF)","x":-123.2,"y":2.47},{"p":"F","k":"axl","t":"I (pA/pF)","x":-122.8,"y":2.47},
{"p":"A","k":"axl","t":"V (mV)","x":-60.3,"y":-1.02}
]},
"facet":{"field":"p","type":"nominal","sort":["A","C","E","B","D","F"],"header":{"title":null,"labels":false,"labelFontSize":0,"labelPadding":0,"labelExpr":"''"}},
"columns":3,
"spacing":{"row":199,"column":48},
"bounds":"flush",
"resolve":{"axis":{"y":"independent"}},
"spec":{
"width":306,"height":187,
"encoding":{
"x":{"field":"x","type":"quantitative","scale":{"domain":[-117.5,-46],"nice":false,"zero":false},"axis":null},
"y":{"field":"y","type":"quantitative","scale":{"domain":[-2.2,2.2],"nice":false,"zero":false},"axis":{"values":[-2,-1,0,1,2],"title":null,"grid":false,"domainColor":"black","domainWidth":3,"tickColor":"black","tickWidth":3,"tickSize":-4,"labelPadding":12,"labelFont":"Lato","labelFontSize":17,"labelFontWeight":"bold","labelColor":"black","labelExpr":"''+datum.value"}}
},
"layer":[
{"transform":[{"filter":"datum.k=='dash'"}],"mark":{"type":"line","strokeWidth":4.5,"strokeDash":[16,8],"interpolate":"monotone"},"encoding":{"color":{"field":"s","type":"nominal","scale":{"domain":["kir","kv","leak"],"range":["#ff0000","#22e11e","#1e73c3"]},"legend":null}}},
{"transform":[{"filter":"datum.k=='dot'"}],"mark":{"type":"line","strokeWidth":5,"strokeDash":[5,4],"interpolate":"monotone"},"encoding":{"color":{"field":"s","type":"nominal","scale":{"domain":["kir","kv","leak"],"range":["#ff0000","#22e11e","#1e73c3"]},"legend":null}}},
{"transform":[{"filter":"datum.k=='sol'"}],"mark":{"type":"line","strokeWidth":5,"interpolate":"monotone"},"encoding":{"color":{"field":"s","type":"nominal","scale":{"domain":["kir","kv","leak"],"range":["#ff0000","#22e11e","#1e73c3"]},"legend":null}}},
{"transform":[{"filter":"datum.k=='leg'"}],"mark":{"type":"rule","strokeWidth":5},"encoding":{"x2":{"field":"x2"},"color":{"field":"s","type":"nominal","scale":{"domain":["kir","kv","leak"],"range":["#ff0000","#22e11e","#1e73c3"]},"legend":null}}},
{"transform":[{"filter":"datum.k=='ax'"}],"mark":{"type":"rule","strokeWidth":3,"color":"black"},"encoding":{"x2":{"field":"x2"}}},
{"transform":[{"filter":"datum.k=='tk'"}],"mark":{"type":"rule","strokeWidth":3,"color":"black"},"encoding":{"y2":{"field":"y2"}}},
{"transform":[{"filter":"datum.k=='ek'"}],"mark":{"type":"rule","strokeWidth":1,"strokeDash":[3,2],"color":"black"},"encoding":{"y2":{"field":"y2"}}},
{"transform":[{"filter":"datum.k=='bar'"}],"mark":{"type":"rule","strokeWidth":3,"color":"black"},"encoding":{"y2":{"field":"y2"}}},
{"transform":[{"filter":"datum.k=='bard'"}],"mark":{"type":"rule","strokeWidth":3,"strokeDash":[3,3],"color":"black"},"encoding":{"y2":{"field":"y2"}}},
{"transform":[{"filter":"datum.k=='darr'"}],"mark":{"type":"rule","strokeWidth":1.2,"strokeDash":[2,2],"color":"black"},"encoding":{"y2":{"field":"y2"}}},
{"transform":[{"filter":"datum.k=='arr'"}],"mark":{"type":"rule","strokeWidth":1.5,"color":"black"},"encoding":{"x2":{"field":"x2"},"y2":{"field":"y2"}}},
{"transform":[{"filter":"datum.k=='hd'"}],"mark":{"type":"line","strokeWidth":1.5,"color":"black"},"encoding":{"detail":{"field":"id"},"order":{"field":"o","type":"quantitative"}}},
{"transform":[{"filter":"datum.k=='br'"}],"mark":{"type":"line","strokeWidth":1.5,"color":"black"},"encoding":{"detail":{"field":"id"},"order":{"field":"o","type":"quantitative"}}},
{"transform":[{"filter":"datum.k=='E'"}],"mark":{"type":"text","font":"Lato, DejaVu Sans","fontSize":19,"fontWeight":"bold","align":"center","baseline":"middle","color":"black"},"encoding":{"text":{"field":"t"}}},
{"transform":[{"filter":"datum.k=='sub'"}],"mark":{"type":"text","font":"Lato, DejaVu Sans","fontSize":15,"align":"center","baseline":"middle","color":"black"},"encoding":{"text":{"field":"t"}}},
{"transform":[{"filter":"datum.k=='I'"}],"mark":{"type":"text","font":"Lato, DejaVu Sans","fontSize":28,"align":"center","baseline":"middle","color":"black"},"encoding":{"text":{"field":"t"}}},
{"transform":[{"filter":"datum.k=='lsub'"}],"mark":{"type":"text","font":"Lato, DejaVu Sans","fontSize":16,"align":"left","baseline":"middle","color":"black"},"encoding":{"text":{"field":"t"}}},
{"transform":[{"filter":"datum.k=='tl'"}],"mark":{"type":"text","font":"Lato, DejaVu Sans","fontSize":16,"fontWeight":"bold","align":"center","baseline":"middle","color":"black"},"encoding":{"text":{"field":"t"}}},
{"transform":[{"filter":"datum.k=='cap'"}],"mark":{"type":"text","font":"Lato, DejaVu Sans","fontSize":19,"fontWeight":"bold","align":"left","baseline":"middle","color":"black"},"encoding":{"text":{"field":"t"}}},
{"transform":[{"filter":"datum.k=='csub'"}],"mark":{"type":"text","font":"Lato, DejaVu Sans","fontSize":13,"fontWeight":"bold","align":"left","baseline":"middle","color":"black"},"encoding":{"text":{"field":"t"}}},
{"transform":[{"filter":"datum.k=='ttl'"}],"mark":{"type":"text","font":"Lato, DejaVu Sans","fontSize":19,"fontWeight":"bold","align":"left","baseline":"middle","color":"black"},"encoding":{"text":{"field":"t"}}},
{"transform":[{"filter":"datum.k=='let'"}],"mark":{"type":"text","font":"Lato, DejaVu Sans","fontSize":28,"align":"center","baseline":"middle","color":"black"},"encoding":{"text":{"field":"t"}}},
{"transform":[{"filter":"datum.k=='axl'"}],"mark":{"type":"text","font":"Lato, DejaVu Sans","fontSize":19,"fontWeight":"bold","align":"left","baseline":"middle","color":"black"},"encoding":{"text":{"field":"t"}}}
]
},
"config":{"view":{"stroke":null},"header":{"labels":false,"title":null},"headerFacet":{"labels":false,"title":null,"labelFontSize":0,"labelPadding":0}}
}
